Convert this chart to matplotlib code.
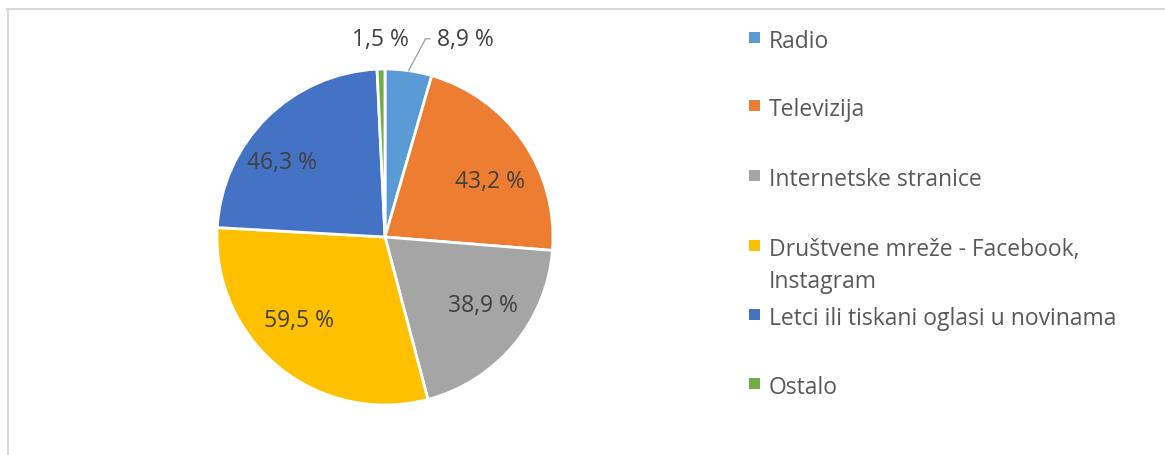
import matplotlib
matplotlib.use("Agg")
import matplotlib.pyplot as plt
from matplotlib.patches import Rectangle
from matplotlib.lines import Line2D
import numpy as np

categories = ["Radio", "Televizija", "Internetske stranice",
              "Društvene mreže - Facebook,\nInstagram",
              "Letci ili tiskani oglasi u novinama", "Ostalo"]
values = [8.9, 43.2, 38.9, 59.5, 46.3, 1.5]
value_labels = ["8,9 %", "43,2 %", "38,9 %", "59,5 %", "46,3 %", "1,5 %"]
colors = ["#5B9BD5", "#ED7D31", "#A5A5A5", "#FFC000", "#4472C4", "#70AD47"]

# label placement tweaks (layout only): angular shift (deg) and radial distance
label_shift = [0, -6.5, 5, -7, 9, 0]
label_dist = [0, 0.71, 0.71, 0.71, 0.76, 0]

W, H = 1165, 456
plt.rcParams['font.family'] = ['Open Sans', 'DejaVu Sans']
fig = plt.figure(figsize=(W / 100, H / 100), dpi=100)
fig.patch.set_facecolor("white")

# chart-area border (top and left visible)
fig.add_artist(Line2D([7 / W, 1], [1 - 10 / H, 1 - 10 / H], color="#D9D9D9", lw=1.5))
fig.add_artist(Line2D([7.5 / W, 7.5 / W], [0, 1 - 10 / H], color="#D9D9D9", lw=1.5))

cx, cy, R = 385, 238, 168
ax = fig.add_axes([0, 0, 1, 1])
wedges, _ = ax.pie(values, colors=colors, startangle=90, counterclock=False,
                   radius=1, wedgeprops=dict(edgecolor="white", linewidth=2))
ax.set_xlim(-cx / R, (W - cx) / R)
ax.set_ylim(-(H - cy) / R, cy / R)
ax.set_aspect("auto")
ax.axis("off")

txt_col = "#404040"
fs = 16.5
for i, (w, lab) in enumerate(zip(wedges, value_labels)):
    ang = np.deg2rad((w.theta1 + w.theta2) / 2 + label_shift[i])
    if i == 0:
        ex, ey = np.cos(ang), np.sin(ang)
        ax.annotate(lab, xy=(ex, ey), xytext=(0.31, 1.18), fontsize=fs,
                    color=txt_col, ha="left", va="center",
                    arrowprops=dict(arrowstyle="-", color="#A6A6A6", lw=1,
                                    connectionstyle="angle,angleA=0,angleB=62,rad=0",
                                    shrinkA=3, shrinkB=0))
    elif i == len(values) - 1:
        ax.text(-0.03, 1.18, lab, fontsize=fs, color=txt_col,
                ha="center", va="center")
    else:
        d = label_dist[i]
        ax.text(d * np.cos(ang), d * np.sin(ang), lab, fontsize=fs,
                color=txt_col, ha="center", va="center")

# legend
leg_col = "#595959"
rows_y = [40, 108, 178, 248, 317, 386]
for lab, col, y in zip(categories, colors, rows_y):
    fig.add_artist(Rectangle((749 / W, 1 - (y + 4) / H), 11 / W, 11 / H,
                             facecolor=col, edgecolor="none"))
    for k, line in enumerate(lab.split("\n")):
        fig.text(769 / W, 1 - (y + 2 + 32 * k) / H, line, fontsize=fs, color=leg_col,
                 ha="left", va="center")

fig.savefig("out.png", dpi=100)
